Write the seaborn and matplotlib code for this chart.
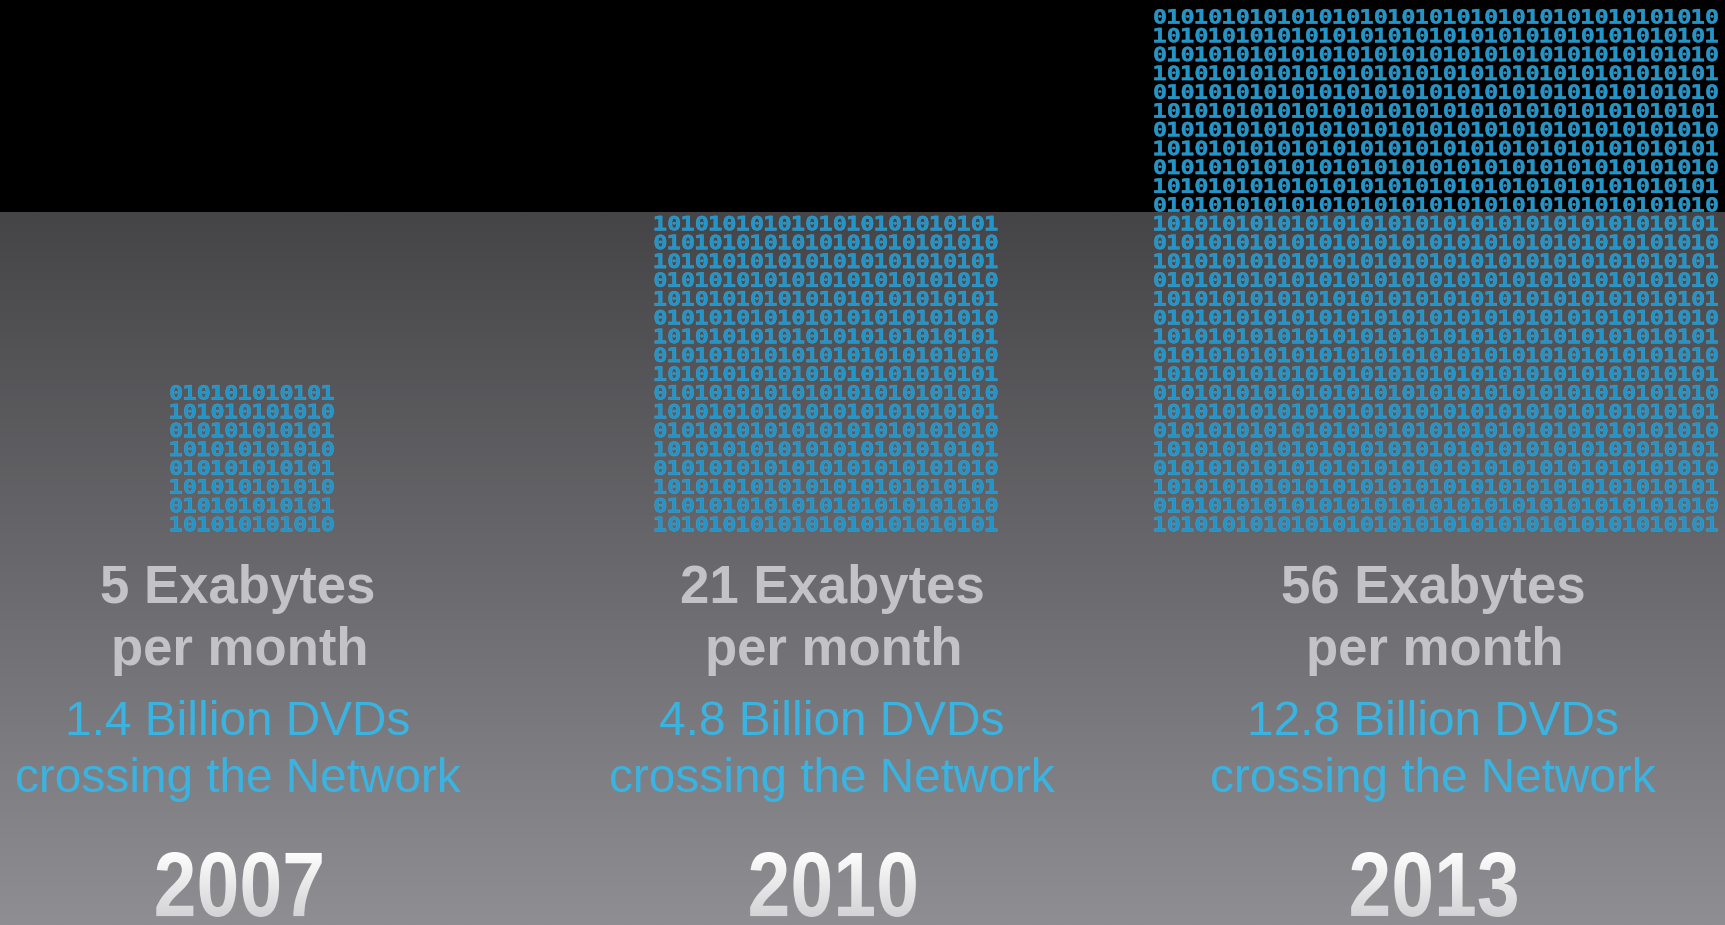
import numpy as np
import pandas as pd
import matplotlib
matplotlib.use("Agg")
import matplotlib.pyplot as plt
import seaborn as sns
from matplotlib.textpath import TextPath
from matplotlib.font_manager import FontProperties
from matplotlib.patches import PathPatch, Rectangle
from matplotlib.path import Path
from matplotlib.markers import MarkerStyle
from matplotlib.transforms import Affine2D

# ---------------- data ----------------
years = ["2007", "2010", "2013"]
exabytes_per_month = [5, 21, 56]
billion_dvds = [1.4, 4.8, 12.8]
grid_cols = [12, 25, 41]      # binary digits per row in each block
grid_rows = [8, 17, 28]       # rows of binary digits in each block
first_digit = ["0", "1", "0"] # top-left digit of each block

# ---------------- layout / style ----------------
W, H = 1725, 925
BLACK_BAND = 212
block_cx = [252, 826, 1436]
text_cx = [238, 832, 1433]
PITCH_X, PITCH_Y = 13.8, 18.8
BOTTOM_ROW_Y = 524
DIGIT_COLOR = "#1f95ca"
DIGIT_EDGE = "#48acdc"
GRAY_TXT = "#c3c3c7"
BLUE_TXT = "#3bb3e0"

sns.set_theme(style="white")
plt.rcParams["font.family"] = ["Liberation Sans", "DejaVu Sans"]

fig = plt.figure(figsize=(W / 100, H / 100), dpi=100)
ax = fig.add_axes([0, 0, 1, 1])

# background: black band + grey vertical gradient
ax.add_patch(Rectangle((0, 0), W, BLACK_BAND, facecolor="black", edgecolor="none", zorder=0))
t = np.linspace(0, 1, 256)[:, None, None]
top_c = np.array([0x45, 0x45, 0x48]) / 255
bot_c = np.array([0x8e, 0x8e, 0x93]) / 255
bg = top_c + t * (bot_c - top_c)
ax.imshow(bg, extent=[0, W, H, BLACK_BAND], aspect="auto", zorder=0, interpolation="bilinear")

# ---------------- binary digit blocks ----------------
cells = []
for i, yr in enumerate(years):
    nc, nr = grid_cols[i], grid_rows[i]
    start = int(first_digit[i])
    for r in range(nr):
        for c in range(nc):
            cells.append(dict(
                year=yr,
                x=block_cx[i] + (c - (nc - 1) / 2) * PITCH_X,
                y=BOTTOM_ROW_Y - (nr - 1 - r) * PITCH_Y,
                digit=str((start + r + c) % 2),
            ))
df = pd.DataFrame(cells)

mono = FontProperties(family="DejaVu Sans Mono", weight="bold")


def glyph_marker(ch, widen=1.22):
    tp = TextPath((0, 0), ch, size=1, prop=mono)
    ext = tp.get_extents()
    cx, cy = ext.x0 + ext.width / 2, ext.y0 + ext.height / 2
    v = tp.vertices.copy()
    codes = tp.codes
    if codes is not None:
        v[codes == Path.CLOSEPOLY] = (cx, cy)
    v = (v - (cx, cy)) * (widen, 1.0)
    return MarkerStyle(Path(v, codes))


markers = {"0": glyph_marker("0"), "1": glyph_marker("1")}
sns.scatterplot(data=df, x="x", y="y", style="digit", markers=markers,
                s=110, color=DIGIT_COLOR, edgecolor=DIGIT_EDGE, linewidth=0.3,
                legend=False, ax=ax, zorder=3)

# ---------------- labels ----------------
for i in range(len(years)):
    cx = text_cx[i]
    ax.text(cx, 603, f"{exabytes_per_month[i]} Exabytes", ha="center", va="baseline",
            fontsize=38, fontweight="bold", color=GRAY_TXT, zorder=4)
    ax.text(cx + 2, 665, "per month", ha="center", va="baseline",
            fontsize=38, fontweight="bold", color=GRAY_TXT, zorder=4)
    ax.text(cx, 735, f"{billion_dvds[i]:.1f} Billion DVDs", ha="center", va="baseline",
            fontsize=34.4, color=BLUE_TXT, zorder=4)
    ax.text(cx, 792, "crossing the Network", ha="center", va="baseline",
            fontsize=34.4, color=BLUE_TXT, zorder=4)

# years: condensed bold with a white -> light grey gradient fill
yfp = FontProperties(family="Liberation Sans", weight="bold")
grad = np.linspace(0, 1, 128)[:, None, None]
g_top = np.array([1.0, 1.0, 1.0])
g_bot = np.array([0xd2, 0xd2, 0xd5]) / 255
gimg = g_top + grad * (g_bot - g_top)
YEAR_BASE, YEAR_H, CONDENSE = 917, 65, 0.84
for i, yr in enumerate(years):
    cx = text_cx[i] + 1
    tp = TextPath((0, 0), yr, size=1, prop=yfp)
    ext = tp.get_extents()
    sy = YEAR_H / ext.height
    sx = sy * CONDENSE
    tr = (Affine2D().translate(-(ext.x0 + ext.width / 2), -ext.y0)
          .scale(sx, -sy).translate(cx, YEAR_BASE)) + ax.transData
    patch = PathPatch(tp, transform=tr, facecolor="none", edgecolor="none", zorder=4)
    ax.add_patch(patch)
    half_w = ext.width * sx / 2 + 4
    im = ax.imshow(gimg, extent=[cx - half_w, cx + half_w, YEAR_BASE + 2, YEAR_BASE - YEAR_H - 2],
                   aspect="auto", zorder=5, interpolation="bilinear")
    im.set_clip_path(patch)

ax.set_xlim(0, W)
ax.set_ylim(H, 0)
ax.axis("off")

fig.savefig("out.png", dpi=100, facecolor="black")
